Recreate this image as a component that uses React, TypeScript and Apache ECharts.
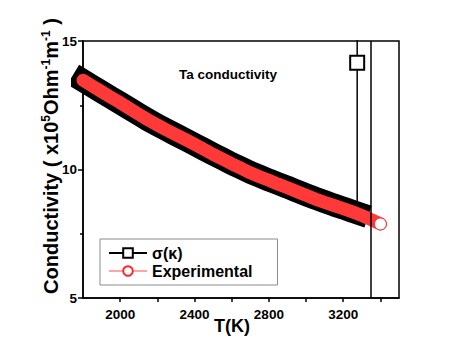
import React, { useEffect, useRef } from "react";
import * as echarts from "echarts";

// Experimental conductivity (x10^5 Ohm^-1 m^-1) vs temperature (K)
const expT = [
  1800, 1850, 1900, 1950, 2000, 2050, 2100, 2150, 2200, 2250, 2300, 2350, 2400,
  2450, 2500, 2550, 2600, 2650, 2700, 2750, 2800, 2850, 2900, 2950, 3000, 3050,
  3100, 3150, 3200, 3250, 3300, 3350, 3400,
];
const expSigma = [
  13.47, 13.25, 13.03, 12.81, 12.6, 12.37, 12.15, 11.93, 11.73, 11.54, 11.35,
  11.17, 10.98, 10.79, 10.59, 10.41, 10.22, 10.05, 9.87, 9.72, 9.58, 9.43, 9.29,
  9.14, 9.0, 8.85, 8.72, 8.6, 8.48, 8.35, 8.21, 8.05, 7.88,
];

// sigma(kappa) series
const calcT = [
  1800, 1850, 1900, 1950, 2000, 2050, 2100, 2150, 2200, 2250, 2300, 2350, 2400,
  2450, 2500, 2550, 2600, 2650, 2700, 2750, 2800, 2850, 2900, 2950, 3000, 3050,
  3100, 3150, 3200, 3250, 3275, 3275, 3275,
];
const calcSigma = [
  13.46, 13.24, 13.02, 12.8, 12.59, 12.37, 12.15, 11.93, 11.73, 11.54, 11.35,
  11.17, 10.98, 10.79, 10.6, 10.42, 10.23, 10.06, 9.89, 9.74, 9.59, 9.45, 9.31,
  9.16, 9.02, 8.88, 8.75, 8.62, 8.5, 8.37, 8.31, 14.15, 16.0,
];
const bandCount = 31; // points of sigma(kappa) lying on the dense band

const xTickValues = [2000, 2200, 2400, 2600, 2800, 3000, 3200, 3400];
const xLabelValues = [2000, 2400, 2800, 3200];
const meltLineT = 3346;

const FONT = "'Liberation Sans', Arial, sans-serif";

export default function App() {
  const ref = useRef<HTMLDivElement>(null);

  useEffect(() => {
    if (!ref.current) return;
    const chart = echarts.init(ref.current, undefined, { renderer: "svg" });

    const calcPts = calcT.map((t, i) => [t, calcSigma[i]]);
    const expPts = expT.map((t, i) => [t, expSigma[i]]);

    const option: any = {
      animation: false,
      backgroundColor: "#fff",
      grid: {
        left: 83,
        right: 64,
        top: 41,
        bottom: 60,
        show: true,
        borderColor: "#000",
        borderWidth: 1.5,
        backgroundColor: "transparent",
      },
      xAxis: {
        type: "value",
        min: 1800,
        max: 3500,
        interval: 200,
        splitLine: { show: false },
        axisLine: { lineStyle: { color: "#000", width: 1.5 } },
        axisTick: {
          inside: false,
          length: 4,
          customValues: xTickValues,
          lineStyle: { color: "#000", width: 1.5 },
        },
        axisLabel: {
          customValues: xLabelValues,
          formatter: (v: number) => String(v),
          margin: 9,
          color: "#000",
          fontSize: 13.5,
          fontWeight: "bold",
          fontFamily: FONT,
        },
      },
      yAxis: {
        type: "value",
        min: 5,
        max: 15,
        interval: 5,
        splitLine: { show: false },
        axisLine: { show: true, lineStyle: { color: "#000", width: 1.5 } },
        axisTick: { inside: false, length: 5, lineStyle: { color: "#000", width: 1.5 } },
        minorTick: { show: true, splitNumber: 2, length: 3, lineStyle: { color: "#000", width: 1.5 } },
        minorSplitLine: { show: false },
        axisLabel: {
          margin: 6,
          color: "#000",
          fontSize: 13.5,
          fontWeight: "bold",
          fontFamily: FONT,
        },
      },
      legend: {
        data: ["σ(κ)", "Experimental"],
        orient: "vertical",
        left: 100,
        top: 239,
        itemWidth: 38,
        itemHeight: 12,
        itemGap: 2,
        padding: [6, 25, 6, 8],
        borderColor: "#8c8c8c",
        borderWidth: 1,
        selectedMode: false,
        textStyle: { color: "#000", fontSize: 16, fontWeight: "bold", fontFamily: FONT },
      },
      series: [
        {
          name: "σ(κ)",
          type: "line",
          symbol: "rect",
          symbolSize: 14,
          itemStyle: { color: "#fff", borderColor: "#000", borderWidth: 2 },
          lineStyle: { color: "#000", width: 1.5 },
          data: calcPts.map((p, i) => ({
            value: p,
            symbol: i === calcPts.length - 2 ? "rect" : "none",
          })),
          markLine: {
            silent: true,
            symbol: ["none", "none"],
            label: { show: false },
            lineStyle: { color: "#000", width: 1.5, type: "solid" },
            data: [{ xAxis: meltLineT }],
          },
          z: 2,
        },
        {
          name: "σ(κ) band",
          type: "line",
          symbol: "none",
          lineStyle: { color: "#000", width: 23, cap: "square", join: "round" },
          data: calcPts.slice(0, bandCount),
          z: 2,
        },
        {
          name: "Experimental",
          type: "line",
          symbol: "circle",
          symbolSize: 12,
          itemStyle: { color: "#fff", borderColor: "#ff2a2a", borderWidth: 1 },
          lineStyle: { color: "#ffa3a3", width: 1 },
          data: expPts.map((p) => ({ value: p, symbol: "none" })),
          z: 3,
        },
        {
          name: "Experimental band",
          type: "line",
          symbol: "circle",
          symbolSize: 12,
          itemStyle: { color: "#fff", borderColor: "#ff2a2a", borderWidth: 1 },
          lineStyle: { color: "#ff3838", width: 13, cap: "round", join: "round" },
          data: expPts.map((p, i) => ({
            value: p,
            symbol: i === expPts.length - 1 ? "circle" : "none",
          })),
          z: 3,
        },
      ],
      graphic: [
        {
          type: "text",
          x: 228,
          y: 74,
          style: {
            text: "Ta conductivity",
            fontSize: 13.5,
            fontWeight: "bold",
            fontFamily: FONT,
            fill: "#000",
            align: "center",
            verticalAlign: "middle",
          },
        },
        {
          type: "text",
          x: 232,
          y: 326,
          style: {
            text: "T(K)",
            fontSize: 18,
            fontWeight: "bold",
            fontFamily: FONT,
            fill: "#000",
            align: "center",
            verticalAlign: "middle",
          },
        },
        {
          type: "text",
          x: 51,
          y: 156,
          rotation: Math.PI / 2,
          style: {
            text: "{a|Conductivity ( x10}{s|5}{a|Ohm}{s|-1}{a|m}{s|-1}{a| )}",
            align: "center",
            verticalAlign: "middle",
            fill: "#000",
            rich: {
              a: { fontSize: 20, fontWeight: "bold", fontFamily: FONT, fill: "#000", lineHeight: 22 },
              s: {
                fontSize: 12,
                fontWeight: "bold",
                fontFamily: FONT,
                fill: "#000",
                verticalAlign: "top",
                lineHeight: 22,
              },
            },
          },
        },
      ],
    };

    chart.setOption(option);
    return () => chart.dispose();
  }, []);

  return (
    <div
      ref={ref}
      style={{ position: "fixed", left: 0, top: 0, width: 463, height: 358, background: "#fff" }}
    />
  );
}
